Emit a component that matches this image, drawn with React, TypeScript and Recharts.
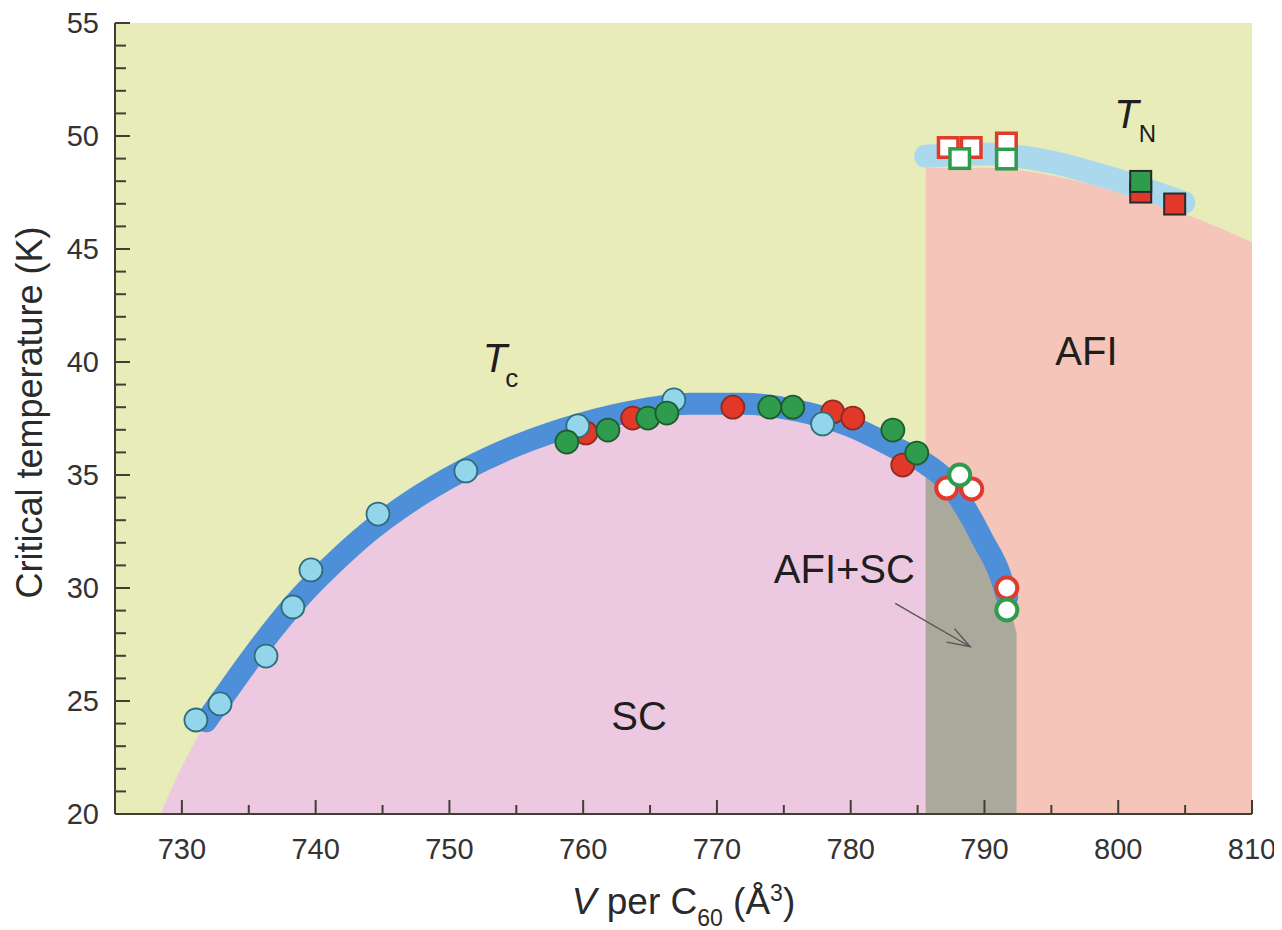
import React from "react";
import { ComposedChart, XAxis, YAxis, Area, Line, Scatter } from "recharts";

type Pt = { v: number; t: number };

const FONT = "'Liberation Sans', Arial, Helvetica, sans-serif";

// axis ranges and ticks (labels only on the major ones)
const xDomain = [725, 810];
const yDomain = [20, 55];
const xTicks = [730, 735, 740, 745, 750, 755, 760, 765, 770, 775, 780, 785, 790, 795, 800, 805, 810];
const yTicks = [
  20, 21, 22, 23, 24, 25, 26, 27, 28, 29, 30, 31, 32, 33, 34, 35, 36, 37,
  38, 39, 40, 41, 42, 43, 44, 45, 46, 47, 48, 49, 50, 51, 52, 53, 54, 55,
];

// phase regions
const background: Pt[] = [
  { v: 725, t: 55 },
  { v: 810, t: 55 },
];
const scRegion: Pt[] = [
  { v: 728.4, t: 20 },
  { v: 729.6, t: 21.6 },
  { v: 730.8, t: 23.0 },
  { v: 731.8, t: 24.1 },
  { v: 733, t: 25.1 },
  { v: 735, t: 26.75 },
  { v: 737, t: 28.3 },
  { v: 739, t: 29.7 },
  { v: 741, t: 30.9 },
  { v: 744, t: 32.5 },
  { v: 747, t: 33.8 },
  { v: 751, t: 35.2 },
  { v: 755, t: 36.3 },
  { v: 760, t: 37.3 },
  { v: 764, t: 37.85 },
  { v: 768, t: 38.15 },
  { v: 772, t: 38.15 },
  { v: 776, t: 37.85 },
  { v: 780, t: 37.15 },
  { v: 783, t: 36.3 },
  { v: 785.6, t: 35.5 },
];
const coexistRegion: Pt[] = [
  { v: 785.6, t: 35.5 },
  { v: 787.4, t: 34.6 },
  { v: 789, t: 33.1 },
  { v: 789.9, t: 32.1 },
  { v: 791.1, t: 30.7 },
  { v: 791.7, t: 29.6 },
  { v: 792.4, t: 28.0 },
];
const afiRegion: Pt[] = [
  { v: 785.6, t: 48.6 },
  { v: 790, t: 48.6 },
  { v: 795, t: 48.25 },
  { v: 798.6, t: 47.75 },
  { v: 801, t: 47.3 },
  { v: 804.7, t: 46.6 },
  { v: 807.5, t: 45.95 },
  { v: 810, t: 45.3 },
];

// guide bands for Tc and TN
const tcBand: Pt[] = [
  { v: 731.8, t: 24.1 },
  { v: 733, t: 25.1 },
  { v: 735, t: 26.75 },
  { v: 737, t: 28.3 },
  { v: 739, t: 29.7 },
  { v: 741, t: 30.9 },
  { v: 744, t: 32.5 },
  { v: 747, t: 33.8 },
  { v: 751, t: 35.2 },
  { v: 755, t: 36.3 },
  { v: 760, t: 37.3 },
  { v: 764, t: 37.85 },
  { v: 768, t: 38.15 },
  { v: 772, t: 38.15 },
  { v: 776, t: 37.85 },
  { v: 780, t: 37.15 },
  { v: 783, t: 36.3 },
  { v: 785.6, t: 35.5 },
  { v: 787.4, t: 34.6 },
  { v: 789, t: 33.1 },
  { v: 789.9, t: 32.1 },
  { v: 791.1, t: 30.7 },
  { v: 791.7, t: 29.6 },
];
const tnBand: Pt[] = [
  { v: 785.6, t: 49.1 },
  { v: 790, t: 49.2 },
  { v: 795, t: 48.85 },
  { v: 798.5, t: 48.3 },
  { v: 802, t: 47.65 },
  { v: 804.9, t: 47.05 },
];

// measured points
const cyanCircles: Pt[] = [
  { v: 731.05, t: 24.16 },
  { v: 732.85, t: 24.87 },
  { v: 736.29, t: 26.99 },
  { v: 738.3, t: 29.16 },
  { v: 739.65, t: 30.8 },
  { v: 744.66, t: 33.27 },
  { v: 751.23, t: 35.18 },
  { v: 759.6, t: 37.17 },
  { v: 766.78, t: 38.32 },
  { v: 777.9, t: 37.26 },
];
const redCircles: Pt[] = [
  { v: 760.2, t: 36.86 },
  { v: 763.7, t: 37.52 },
  { v: 771.19, t: 38.0 },
  { v: 778.66, t: 37.79 },
  { v: 780.16, t: 37.52 },
  { v: 783.89, t: 35.44 },
];
const greenCircles: Pt[] = [
  { v: 758.78, t: 36.46 },
  { v: 761.85, t: 36.99 },
  { v: 764.84, t: 37.52 },
  { v: 766.26, t: 37.74 },
  { v: 773.95, t: 38.0 },
  { v: 775.67, t: 38.0 },
  { v: 783.15, t: 36.99 },
  { v: 784.94, t: 35.97 },
];
const redOpenCircles: Pt[] = [
  { v: 787.18, t: 34.42 },
  { v: 789.05, t: 34.38 },
  { v: 791.67, t: 30.0 },
];
const greenOpenCircles: Pt[] = [
  { v: 788.15, t: 35.0 },
  { v: 791.67, t: 29.03 },
];
const redOpenSquares: Pt[] = [
  { v: 787.29, t: 49.49 },
  { v: 789.01, t: 49.49 },
  { v: 791.64, t: 49.69 },
];
const greenOpenSquares: Pt[] = [
  { v: 788.15, t: 49.0 },
  { v: 791.64, t: 48.98 },
];
const redSquares: Pt[] = [
  { v: 801.68, t: 47.52 },
  { v: 804.22, t: 46.99 },
];
const greenSquares: Pt[] = [{ v: 801.68, t: 47.99 }];

// annotation anchors (text baseline start)
const notes = [
  { v: 752.5, t: 39.55, id: "Tc" },
  { v: 799.7, t: 50.35, id: "TN" },
  { v: 795.3, t: 39.87, id: "AFI" },
  { v: 762.1, t: 23.72, id: "SC" },
  { v: 774.25, t: 30.22, id: "AFI+SC" },
];
const arrow: Pt[] = [
  { v: 783.33, t: 29.32 },
  { v: 788.93, t: 27.4 },
];

const AXIS = { stroke: "#3f3f35", strokeWidth: 2 };
const TICK_TEXT = { fontSize: 29, fill: "#333", fontFamily: FONT };
const X_MARGIN = 24;
const Y_MARGIN = 16;

// inward ticks on all four sides, numbers on bottom and left only
function BottomTick(p: any) {
  const v = p.payload.value;
  const major = v % 10 === 0;
  const y0 = p.y - X_MARGIN;
  return (
    <g>
      <line x1={p.x} x2={p.x} y1={y0} y2={y0 - (major ? 14 : 9)} {...AXIS} />
      {major && (
        <text x={p.x} y={p.y} dy="0.71em" textAnchor="middle" {...TICK_TEXT}>
          {v}
        </text>
      )}
    </g>
  );
}

function TopTick(p: any) {
  const major = p.payload.value % 10 === 0;
  return <line x1={p.x} x2={p.x} y1={p.y} y2={p.y + (major ? 14 : 10)} {...AXIS} />;
}

function LeftTick(p: any) {
  const v = p.payload.value;
  const major = v % 5 === 0;
  const x0 = p.x + Y_MARGIN;
  return (
    <g>
      <line x1={x0} x2={x0 + (major ? 15 : 11)} y1={p.y} y2={p.y} {...AXIS} />
      {major && (
        <text x={p.x} y={p.y} dy="0.355em" textAnchor="end" {...TICK_TEXT}>
          {v}
        </text>
      )}
    </g>
  );
}

function RightTick(p: any) {
  const major = p.payload.value % 5 === 0;
  return <line x1={p.x} x2={p.x - (major ? 14 : 9)} y1={p.y} y2={p.y} {...AXIS} />;
}

const circle = (fill: string, stroke: string, r: number, sw: number) => (p: any) => (
  <circle cx={p.cx} cy={p.cy} r={r} fill={fill} stroke={stroke} strokeWidth={sw} />
);
const square = (fill: string, stroke: string, s: number, sw: number) => (p: any) => (
  <rect x={p.cx - s / 2} y={p.cy - s / 2} width={s} height={s} fill={fill} stroke={stroke} strokeWidth={sw} />
);

function Note(p: any) {
  const { cx, cy, payload } = p;
  const base = { x: cx, y: cy, fill: "#1e1e1e", fontSize: 40, fontFamily: FONT };
  switch (payload.id) {
    case "Tc":
      return (
        <text {...base}>
          <tspan fontStyle="italic">T</tspan>
          <tspan fontSize={26} dx={-2} dy={15}>c</tspan>
        </text>
      );
    case "TN":
      return (
        <text {...base}>
          <tspan fontStyle="italic">T</tspan>
          <tspan fontSize={24} dx={0} dy={14}>N</tspan>
        </text>
      );
    default:
      return <text {...base}>{payload.id}</text>;
  }
}

// open arrowhead at the end of the pointer line
function ArrowHead(p: any) {
  const pts = p.points;
  if (p.index !== 1 || !pts || pts.length < 2) return <g key={`ah-${p.index}`} />;
  const a = Math.atan2(pts[1].y - pts[0].y, pts[1].x - pts[0].x);
  const len = 24;
  const spread = 0.33;
  const x1 = p.cx - len * Math.cos(a - spread);
  const y1 = p.cy - len * Math.sin(a - spread);
  const x2 = p.cx - len * Math.cos(a + spread);
  const y2 = p.cy - len * Math.sin(a + spread);
  return (
    <polyline
      key="ah"
      points={`${x1},${y1} ${p.cx},${p.cy} ${x2},${y2}`}
      fill="none"
      stroke="#555"
      strokeWidth={1.4}
    />
  );
}

function XTitle(props: any) {
  const vb = props.viewBox || { x: 107, y: 806, width: 1137, height: 116 };
  return (
    <text x={vb.x + vb.width / 2} y={vb.y + 100} textAnchor="middle" fontSize={37} fill="#2a2a2a" fontFamily={FONT}>
      <tspan fontStyle="italic">V</tspan>
      <tspan> per C</tspan>
      <tspan fontSize={23} dy={12}>60</tspan>
      <tspan dy={-12}> (Å</tspan>
      <tspan fontSize={23} dy={-13}>3</tspan>
      <tspan dy={13}>)</tspan>
    </text>
  );
}

function YTitle(props: any) {
  const vb = props.viewBox || { x: 0, y: 15, width: 107, height: 791 };
  const cx = vb.x + 34;
  const cy = vb.y + vb.height / 2 - 6;
  return (
    <text x={cx} y={cy} transform={`rotate(-90 ${cx} ${cy})`} textAnchor="middle" fontSize={36} fill="#2a2a2a" fontFamily={FONT}>
      Critical temperature (K)
    </text>
  );
}

export default function App() {
  return (
    <div style={{ width: 1274, height: 922, fontFamily: FONT }}>
      <style>{`html, body { overflow: hidden; }`}</style>
      <ComposedChart width={1274} height={922} margin={{ top: 15, right: 30, bottom: 0, left: 0 }}>
        <Area data={background} dataKey="t" type="linear" baseValue={20} fill="#e8ecb8" fillOpacity={1} stroke="none" isAnimationActive={false} />
        <Area data={afiRegion} dataKey="t" type="monotone" baseValue={20} fill="#f5c5b9" fillOpacity={1} stroke="none" isAnimationActive={false} />
        <Area data={scRegion} dataKey="t" type="monotone" baseValue={20} fill="#ecc9e0" fillOpacity={1} stroke="none" isAnimationActive={false} />
        <Area data={coexistRegion} dataKey="t" type="monotone" baseValue={20} fill="#aaa99c" fillOpacity={1} stroke="none" isAnimationActive={false} />

        <Line data={tnBand} dataKey="t" type="monotone" stroke="#aad9ee" strokeWidth={23} strokeLinecap="round" dot={false} activeDot={false} isAnimationActive={false} />
        <Line data={tcBand} dataKey="t" type="monotone" stroke="#4d8fd8" strokeWidth={22} strokeLinecap="round" dot={false} activeDot={false} isAnimationActive={false} />
        <Line data={arrow} dataKey="t" type="linear" stroke="#555" strokeWidth={1.4} dot={ArrowHead} activeDot={false} isAnimationActive={false} />

        <XAxis
          dataKey="v"
          type="number"
          domain={xDomain}
          allowDataOverflow
          ticks={xTicks}
          interval={0}
          tickLine={false}
          axisLine={AXIS}
          tickSize={0}
          tickMargin={X_MARGIN}
          height={116}
          tick={BottomTick}
          label={{ content: XTitle }}
        />
        <XAxis
          xAxisId="top"
          orientation="top"
          type="number"
          domain={xDomain}
          allowDataOverflow
          ticks={xTicks}
          interval={0}
          tickLine={false}
          axisLine={AXIS}
          tickSize={0}
          tickMargin={0}
          height={0}
          tick={TopTick}
        />
        <YAxis
          dataKey="t"
          type="number"
          domain={yDomain}
          allowDataOverflow
          ticks={yTicks}
          interval={0}
          tickLine={false}
          axisLine={AXIS}
          tickSize={0}
          tickMargin={Y_MARGIN}
          width={107}
          tick={LeftTick}
          label={{ content: YTitle }}
        />
        <YAxis
          yAxisId="right"
          orientation="right"
          type="number"
          domain={yDomain}
          allowDataOverflow
          ticks={yTicks}
          interval={0}
          tickLine={false}
          axisLine={AXIS}
          tickSize={0}
          tickMargin={0}
          width={0}
          tick={RightTick}
        />

        <Scatter data={redCircles} shape={circle("#e2382a", "#8e2a1f", 11.5, 1.8)} isAnimationActive={false} />
        <Scatter data={cyanCircles} shape={circle("#93d5ea", "#2e6d7e", 11.5, 1.8)} isAnimationActive={false} />
        <Scatter data={greenCircles} shape={circle("#2f9b4d", "#1d5c2e", 11.5, 1.8)} isAnimationActive={false} />
        <Scatter data={redOpenCircles} shape={circle("#ffffff", "#e03a2c", 10.5, 4)} isAnimationActive={false} />
        <Scatter data={greenOpenCircles} shape={circle("#ffffff", "#2f9b4d", 10.5, 4)} isAnimationActive={false} />
        <Scatter data={redOpenSquares} shape={square("#ffffff", "#e03a2c", 19.5, 3.5)} isAnimationActive={false} />
        <Scatter data={greenOpenSquares} shape={square("#ffffff", "#2f9b4d", 19.5, 3.5)} isAnimationActive={false} />
        <Scatter data={redSquares} shape={square("#e2382a", "#2a2a2a", 21, 2)} isAnimationActive={false} />
        <Scatter data={greenSquares} shape={square("#2f9b4d", "#2a2a2a", 21, 2)} isAnimationActive={false} />
        <Scatter data={notes} shape={Note} isAnimationActive={false} />
      </ComposedChart>
    </div>
  );
}
